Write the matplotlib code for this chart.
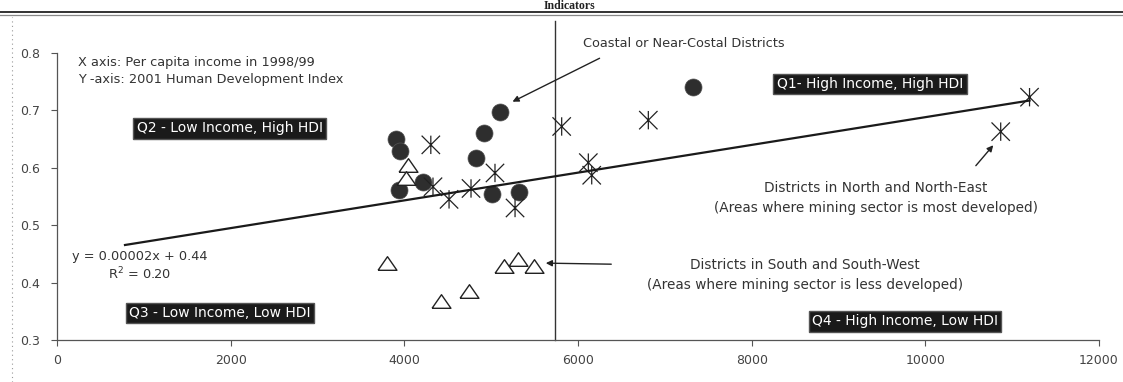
import matplotlib
matplotlib.use("Agg")
import matplotlib.pyplot as plt
from matplotlib.path import Path
from matplotlib.lines import Line2D
import numpy as np

plt.rcParams['font.family'] = ['DejaVu Sans']

# ---- data ----
coastal_x = [5100, 4920, 4825, 3905, 3950, 3943, 4215, 5006, 5325, 7330]
coastal_y = [0.698, 0.660, 0.617, 0.650, 0.630, 0.561, 0.575, 0.555, 0.558, 0.740]

north_x = [4305, 5812, 5044, 4330, 4515, 4768, 5275, 6119, 6158, 6810, 11200, 10868]
north_y = [0.640, 0.672, 0.591, 0.567, 0.545, 0.564, 0.530, 0.609, 0.587, 0.683, 0.723, 0.663]

south_x = [3797, 4422, 4748, 5152, 5306, 5497, 4046, 4019]
south_y = [0.435, 0.368, 0.386, 0.429, 0.441, 0.429, 0.605, 0.582]

trend_slope = 0.00002416
trend_intercept = 0.4466
trend_x_range = [783, 11200]
income_divider = 5735

x_ticks = [0, 2000, 4000, 6000, 8000, 10000, 12000]
y_ticks = [0.3, 0.4, 0.5, 0.6, 0.7, 0.8]

quadrant_labels = ["Q1- High Income, High HDI", "Q2 - Low Income, High HDI",
                   "Q3 - Low Income, Low HDI", "Q4 - High Income, Low HDI"]
quadrant_pos = [(9363, 0.746), (1992, 0.669), (1877, 0.347), (9766, 0.333)]

# ---- figure ----
W, H = 1123, 382
fig = plt.figure(figsize=(W / 100, H / 100), dpi=100)
ax = fig.add_axes([57 / W, 1 - 340 / H, (1099 - 57) / W, (340 - 53) / H])
ax.set_xlim(0, 12000)
ax.set_ylim(0.3, 0.8)
ax.set_xticks(x_ticks)
ax.set_yticks(y_ticks)
ax.set_xticklabels([str(t) for t in x_ticks])
ax.set_yticklabels([f"{t:.1f}" for t in y_ticks])
for s in ['top', 'right']:
    ax.spines[s].set_visible(False)
for s in ['left', 'bottom']:
    ax.spines[s].set_color('#555555')
    ax.spines[s].set_linewidth(0.9)
ax.tick_params(direction='out', length=4, width=0.8, color='#555555',
               labelsize=9, labelcolor='#444444')
ax.tick_params(axis='y', pad=8)
ax.tick_params(axis='x', pad=6)

# markers
star = Path([(-1, -1), (1, 1), (-1, 1), (1, -1), (0, -1), (0, 1)],
            [Path.MOVETO, Path.LINETO, Path.MOVETO, Path.LINETO, Path.MOVETO, Path.LINETO])
tri = [(-1, -0.72), (1, -0.72), (0, 0.72), (-1, -0.72)]

ax.scatter(coastal_x, coastal_y, s=150, marker='o', color='#2e2e2e', edgecolor='#555555',
           linewidth=0.5, zorder=3)
ax.scatter(north_x, north_y, s=175, marker=star, facecolor='none', edgecolor='#222222',
           linewidth=0.9, zorder=4)
ax.scatter(south_x, south_y, s=185, marker=tri, facecolor='white', edgecolor='#222222',
           linewidth=1.0, zorder=4)

# trend line
tx = np.array(trend_x_range, dtype=float)
ax.plot(tx, trend_slope * tx + trend_intercept, color='#1a1a1a', lw=1.6, zorder=5)

# divider
ax.plot([income_divider, income_divider], [0.3, 0.855], color='#333333', lw=1.0,
        clip_on=False, zorder=2)

# quadrant boxes
for lab, (qx, qy) in zip(quadrant_labels, quadrant_pos):
    ax.text(qx, qy, lab, ha='center', va='center', fontsize=10, color='white',
            bbox=dict(boxstyle='square,pad=0.25', facecolor='#1a1a1a', edgecolor='#555555'),
            zorder=6)

txt = dict(fontsize=9.3, color='#333333')
big = dict(fontsize=9.8, color='#333333')
ax.text(242, 0.783, "X axis: Per capita income in 1998/99", ha='left', va='center', **txt)
ax.text(242, 0.753, "Y -axis: 2001 Human Development Index", ha='left', va='center', **txt)
ax.text(956, 0.445, "y = 0.00002x + 0.44", ha='center', va='center', **txt)
ax.text(956, 0.415, "R$^2$ = 0.20", ha='center', va='center', **txt)

ax.text(6058, 0.817, "Coastal or Near-Costal Districts", ha='left', va='center',
        clip_on=False, **txt)
ax.text(9432, 0.565, "Districts in North and North-East", ha='center', va='center', **big)
ax.text(9432, 0.530, "(Areas where mining sector is most developed)", ha='center', va='center', **big)
ax.text(8614, 0.431, "Districts in South and South-West", ha='center', va='center', **big)
ax.text(8614, 0.396, "(Areas where mining sector is less developed)", ha='center', va='center', **big)

arrow = dict(arrowstyle='-|>', color='#222222', lw=1.0, mutation_scale=9)
ax.annotate("", xy=(5217, 0.713), xytext=(6277, 0.793), arrowprops=arrow, annotation_clip=False)
ax.annotate("", xy=(10803, 0.643), xytext=(10561, 0.600), arrowprops=arrow)
ax.annotate("", xy=(5597, 0.434), xytext=(6415, 0.432), arrowprops=arrow)

# page decorations: title, double rule, left border
fig.text(569 / W, 1 - 9 / H, "Indicators", ha='center', va='baseline', fontsize=8.5,
         fontweight='bold', family='Liberation Serif', color='#222222')
fig.add_artist(Line2D([0, 1], [1 - 11.5 / H, 1 - 11.5 / H], color='#333333', lw=1.4,
                      transform=fig.transFigure))
fig.add_artist(Line2D([0, 1], [1 - 14.5 / H, 1 - 14.5 / H], color='#888888', lw=0.9,
                      transform=fig.transFigure))
fig.add_artist(Line2D([12 / W, 12 / W], [0, 1 - 17 / H], color='#999999', lw=0.8,
                      linestyle=(0, (1, 3)), transform=fig.transFigure))

fig.savefig("out.png", dpi=100)
